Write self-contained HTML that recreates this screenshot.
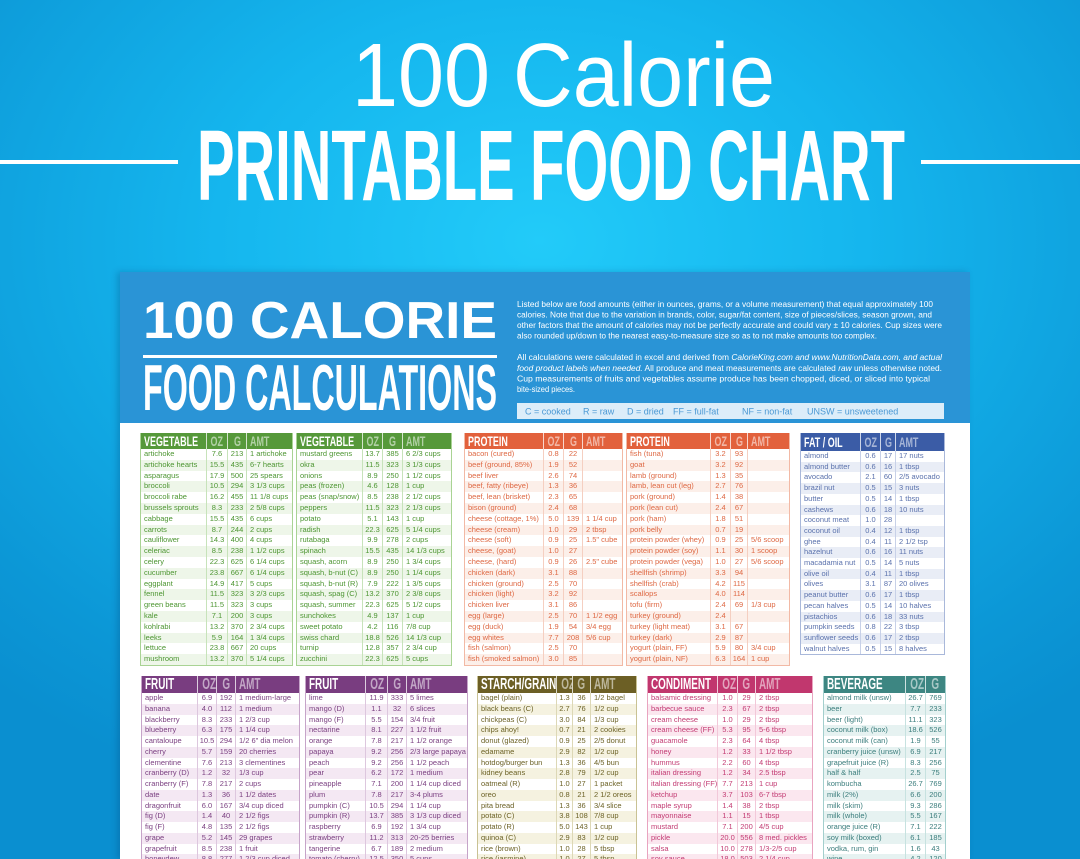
<!DOCTYPE html>
<html><head><meta charset="utf-8">
<style>
html{margin:0;padding:0;width:1080px;height:859px;overflow:hidden}
body{margin:0;padding:0;width:1080px;height:859px;overflow:hidden;position:relative;font-family:"Liberation Sans",sans-serif;
background:radial-gradient(ellipse 75% 70% at 50% 28%,#22cbf9 0%,#15b6ee 40%,#0c97d6 85%,#0a8fd0 100%);}
.card{position:absolute;left:120px;top:272px;width:850px;height:587px;background:#fff;box-shadow:-3px 0 6px rgba(0,60,110,.25)}
.band{position:absolute;left:120px;top:272px;width:850px;height:151px;background:#2a94d6}
svg.ov{position:absolute;left:0;top:0}
.tb{position:absolute;box-sizing:border-box;border:1px solid var(--bd);border-top:none;background:#fff}
.tb table{border-collapse:separate;border-spacing:0;table-layout:fixed;width:100%}
.tb th{height:16px;line-height:16px;padding:0 0 0 3px;text-align:left;font-weight:bold;font-size:14px;color:#fff;background:var(--hd);white-space:nowrap;overflow:hidden}
.tb th+th{border-left:1px solid rgba(255,255,255,.75);color:rgba(255,255,255,.55)}
.tb th:nth-child(2),.tb th:nth-child(3){text-align:center;padding:0}
.tb th span{display:inline-block;transform:scaleX(.64);transform-origin:left center}
.tb th:nth-child(2) span,.tb th:nth-child(3) span{transform-origin:center center}
.tb td{height:10.8px;line-height:10.8px;padding:0 0 0 3px;font-size:7.5px;color:var(--tx);white-space:nowrap;overflow:hidden}
.tb td:nth-child(2),.tb td:nth-child(3){text-align:center;padding:0}
.tb td+td{border-left:1px solid var(--ln)}
.tb tbody tr:nth-child(even) td{background:var(--alt)}
.bot{border-bottom:none}
.bot th{height:17px;line-height:17px;font-size:16px}
.bot th span{transform:scaleX(.62)}
.bot td{height:10.75px;line-height:10.75px}
.fat th{height:18px;line-height:18px}
.fat td{height:10.7px;line-height:10.7px}
.veg{--hd:#56993a;--tx:#4c9531;--bd:#a9d394;--alt:#eef6e9;--ln:#c7e3ba}
.pro{--hd:#e2613c;--tx:#de6843;--bd:#f2b9a5;--alt:#fcefe9;--ln:#f5cfc1}
.fat{--hd:#3b5ca6;--tx:#5a71ac;--bd:#a9b8da;--alt:#e9edf6;--ln:#c8d1e8}
.fru{--hd:#793d80;--tx:#7a3f80;--bd:#c6a4c9;--alt:#f4e8f3;--ln:#ddc7de}
.sta{--hd:#6c5f25;--tx:#6c6226;--bd:#c9c294;--alt:#f5f2e0;--ln:#ddd8b6}
.con{--hd:#c1376e;--tx:#c33b73;--bd:#e9a4c0;--alt:#fbe7ef;--ln:#f2c8d9}
.bev{--hd:#3d8682;--tx:#3a7d7c;--bd:#a3cfcd;--alt:#e6f2f1;--ln:#c7e2e0}
</style></head><body>
<div class="card"></div>
<div class="band"></div>

<svg class="ov" width="1080" height="430" viewBox="0 0 1080 430">
  <text x="352" y="106" font-family="Liberation Sans, sans-serif" font-weight="normal" font-size="90" fill="#fff" textLength="423" lengthAdjust="spacingAndGlyphs">100 Calorie</text>
  <rect x="0" y="160" width="178" height="4" fill="#fff"/>
  <rect x="921" y="160" width="159" height="4" fill="#fff"/>
  <text x="197" y="200" font-family="Liberation Sans, sans-serif" font-weight="bold" font-size="100" fill="#fff" textLength="708" lengthAdjust="spacingAndGlyphs">PRINTABLE FOOD CHART</text>

  <text x="143" y="338" font-family="Liberation Sans, sans-serif" font-weight="bold" font-size="52" fill="#fff" textLength="354" lengthAdjust="spacingAndGlyphs">100 CALORIE</text>
  <rect x="143" y="355" width="354" height="3" fill="#fff"/>
  <text x="143" y="410" font-family="Liberation Sans, sans-serif" font-weight="bold" font-size="65" fill="#fff" textLength="354" lengthAdjust="spacingAndGlyphs">FOOD CALCULATIONS</text>

  <g font-family="Liberation Sans, sans-serif" font-size="8.6" fill="#fff">
    <text x="517" y="307" textLength="416" lengthAdjust="spacingAndGlyphs">Listed below are food amounts (either in ounces, grams, or a volume measurement) that equal approximately 100</text>
    <text x="517" y="317.5" textLength="415" lengthAdjust="spacingAndGlyphs">calories. Note that due to the variation in brands, color, sugar/fat content, size of pieces/slices, season grown, and</text>
    <text x="517" y="328" textLength="425" lengthAdjust="spacingAndGlyphs">other factors that the amount of calories may not be perfectly accurate and could vary ± 10 calories. Cup sizes were</text>
    <text x="517" y="338.5" textLength="360" lengthAdjust="spacingAndGlyphs">also rounded up/down to the nearest easy-to-measure size so as to not make amounts too complex.</text>
    <text x="517" y="360" textLength="425" lengthAdjust="spacingAndGlyphs">All calculations were calculated in excel and derived from <tspan font-style="italic">CalorieKing.com and www.NutritionData.com, and actual</tspan></text>
    <text x="517" y="371" textLength="425" lengthAdjust="spacingAndGlyphs"><tspan font-style="italic">food product labels when needed.</tspan> All produce and meat measurements are calculated <tspan font-style="italic">raw</tspan> unless otherwise noted.</text>
    <text x="517" y="381.5" textLength="413" lengthAdjust="spacingAndGlyphs">Cup measurements of fruits and vegetables assume produce has been chopped, diced, or sliced into typical</text>
    <text x="517" y="392" textLength="58" lengthAdjust="spacingAndGlyphs">bite-sized pieces.</text>
  </g>
  <rect x="517" y="403" width="427" height="16" fill="#dcedf9"/>
  <g font-family="Liberation Sans, sans-serif" font-size="9" fill="#4a98d4">
    <text x="525" y="414.5">C = cooked</text>
    <text x="583" y="414.5">R = raw</text>
    <text x="627" y="414.5">D = dried</text>
    <text x="673" y="414.5">FF = full-fat</text>
    <text x="742" y="414.5">NF = non-fat</text>
    <text x="807" y="414.5">UNSW = unsweetened</text>
  </g>
</svg>

<!-- VEGETABLE 1 -->
<div class="tb veg" style="left:140px;top:433px;width:153px"><table>
<colgroup><col style="width:65px"><col style="width:21px"><col style="width:19px"><col></colgroup>
<thead><tr><th><span>VEGETABLE</span></th><th><span>OZ</span></th><th><span>G</span></th><th><span>AMT</span></th></tr></thead>
<tbody>
<tr><td>artichoke</td><td>7.6</td><td>213</td><td>1 artichoke</td></tr>
<tr><td>artichoke hearts</td><td>15.5</td><td>435</td><td>6-7 hearts</td></tr>
<tr><td>asparagus</td><td>17.9</td><td>500</td><td>25 spears</td></tr>
<tr><td>broccoli</td><td>10.5</td><td>294</td><td>3 1/3 cups</td></tr>
<tr><td>broccoli rabe</td><td>16.2</td><td>455</td><td>11 1/8 cups</td></tr>
<tr><td>brussels sprouts</td><td>8.3</td><td>233</td><td>2 5/8 cups</td></tr>
<tr><td>cabbage</td><td>15.5</td><td>435</td><td>6 cups</td></tr>
<tr><td>carrots</td><td>8.7</td><td>244</td><td>2 cups</td></tr>
<tr><td>cauliflower</td><td>14.3</td><td>400</td><td>4 cups</td></tr>
<tr><td>celeriac</td><td>8.5</td><td>238</td><td>1 1/2 cups</td></tr>
<tr><td>celery</td><td>22.3</td><td>625</td><td>6 1/4 cups</td></tr>
<tr><td>cucumber</td><td>23.8</td><td>667</td><td>6 1/4 cups</td></tr>
<tr><td>eggplant</td><td>14.9</td><td>417</td><td>5 cups</td></tr>
<tr><td>fennel</td><td>11.5</td><td>323</td><td>3 2/3 cups</td></tr>
<tr><td>green beans</td><td>11.5</td><td>323</td><td>3 cups</td></tr>
<tr><td>kale</td><td>7.1</td><td>200</td><td>3 cups</td></tr>
<tr><td>kohlrabi</td><td>13.2</td><td>370</td><td>2 3/4 cups</td></tr>
<tr><td>leeks</td><td>5.9</td><td>164</td><td>1 3/4 cups</td></tr>
<tr><td>lettuce</td><td>23.8</td><td>667</td><td>20 cups</td></tr>
<tr><td>mushroom</td><td>13.2</td><td>370</td><td>5 1/4 cups</td></tr>
</tbody></table></div>

<!-- VEGETABLE 2 -->
<div class="tb veg" style="left:296px;top:433px;width:156px"><table>
<colgroup><col style="width:65px"><col style="width:20px"><col style="width:20px"><col></colgroup>
<thead><tr><th><span>VEGETABLE</span></th><th><span>OZ</span></th><th><span>G</span></th><th><span>AMT</span></th></tr></thead>
<tbody>
<tr><td>mustard greens</td><td>13.7</td><td>385</td><td>6 2/3 cups</td></tr>
<tr><td>okra</td><td>11.5</td><td>323</td><td>3 1/3 cups</td></tr>
<tr><td>onions</td><td>8.9</td><td>250</td><td>1 1/2 cups</td></tr>
<tr><td>peas (frozen)</td><td>4.6</td><td>128</td><td>1 cup</td></tr>
<tr><td>peas (snap/snow)</td><td>8.5</td><td>238</td><td>2 1/2 cups</td></tr>
<tr><td>peppers</td><td>11.5</td><td>323</td><td>2 1/3 cups</td></tr>
<tr><td>potato</td><td>5.1</td><td>143</td><td>1 cup</td></tr>
<tr><td>radish</td><td>22.3</td><td>625</td><td>5 1/4 cups</td></tr>
<tr><td>rutabaga</td><td>9.9</td><td>278</td><td>2 cups</td></tr>
<tr><td>spinach</td><td>15.5</td><td>435</td><td>14 1/3 cups</td></tr>
<tr><td>squash, acorn</td><td>8.9</td><td>250</td><td>1 3/4 cups</td></tr>
<tr><td>squash, b-nut (C)</td><td>8.9</td><td>250</td><td>1 1/4 cups</td></tr>
<tr><td>squash, b-nut (R)</td><td>7.9</td><td>222</td><td>1 3/5 cups</td></tr>
<tr><td>squash, spag (C)</td><td>13.2</td><td>370</td><td>2 3/8 cups</td></tr>
<tr><td>squash, summer</td><td>22.3</td><td>625</td><td>5 1/2 cups</td></tr>
<tr><td>sunchokes</td><td>4.9</td><td>137</td><td>1 cup</td></tr>
<tr><td>sweet potato</td><td>4.2</td><td>116</td><td>7/8 cup</td></tr>
<tr><td>swiss chard</td><td>18.8</td><td>526</td><td>14 1/3 cup</td></tr>
<tr><td>turnip</td><td>12.8</td><td>357</td><td>2 3/4 cup</td></tr>
<tr><td>zucchini</td><td>22.3</td><td>625</td><td>5 cups</td></tr>
</tbody></table></div>

<!-- PROTEIN 1 -->
<div class="tb pro" style="left:464px;top:433px;width:159px"><table>
<colgroup><col style="width:78px"><col style="width:20px"><col style="width:19px"><col></colgroup>
<thead><tr><th><span>PROTEIN</span></th><th><span>OZ</span></th><th><span>G</span></th><th><span>AMT</span></th></tr></thead>
<tbody>
<tr><td>bacon (cured)</td><td>0.8</td><td>22</td><td></td></tr>
<tr><td>beef (ground, 85%)</td><td>1.9</td><td>52</td><td></td></tr>
<tr><td>beef liver</td><td>2.6</td><td>74</td><td></td></tr>
<tr><td>beef, fatty (ribeye)</td><td>1.3</td><td>36</td><td></td></tr>
<tr><td>beef, lean (brisket)</td><td>2.3</td><td>65</td><td></td></tr>
<tr><td>bison (ground)</td><td>2.4</td><td>68</td><td></td></tr>
<tr><td>cheese (cottage, 1%)</td><td>5.0</td><td>139</td><td>1 1/4 cup</td></tr>
<tr><td>cheese (cream)</td><td>1.0</td><td>29</td><td>2 tbsp</td></tr>
<tr><td>cheese (soft)</td><td>0.9</td><td>25</td><td>1.5" cube</td></tr>
<tr><td>cheese, (goat)</td><td>1.0</td><td>27</td><td></td></tr>
<tr><td>cheese, (hard)</td><td>0.9</td><td>26</td><td>2.5" cube</td></tr>
<tr><td>chicken (dark)</td><td>3.1</td><td>88</td><td></td></tr>
<tr><td>chicken (ground)</td><td>2.5</td><td>70</td><td></td></tr>
<tr><td>chicken (light)</td><td>3.2</td><td>92</td><td></td></tr>
<tr><td>chicken liver</td><td>3.1</td><td>86</td><td></td></tr>
<tr><td>egg (large)</td><td>2.5</td><td>70</td><td>1 1/2 egg</td></tr>
<tr><td>egg (duck)</td><td>1.9</td><td>54</td><td>3/4 egg</td></tr>
<tr><td>egg whites</td><td>7.7</td><td>208</td><td>5/6 cup</td></tr>
<tr><td>fish (salmon)</td><td>2.5</td><td>70</td><td></td></tr>
<tr><td>fish (smoked salmon)</td><td>3.0</td><td>85</td><td></td></tr>
</tbody></table></div>

<!-- PROTEIN 2 -->
<div class="tb pro" style="left:626px;top:433px;width:164px"><table>
<colgroup><col style="width:83px"><col style="width:20px"><col style="width:17px"><col></colgroup>
<thead><tr><th><span>PROTEIN</span></th><th><span>OZ</span></th><th><span>G</span></th><th><span>AMT</span></th></tr></thead>
<tbody>
<tr><td>fish (tuna)</td><td>3.2</td><td>93</td><td></td></tr>
<tr><td>goat</td><td>3.2</td><td>92</td><td></td></tr>
<tr><td>lamb (ground)</td><td>1.3</td><td>35</td><td></td></tr>
<tr><td>lamb, lean cut (leg)</td><td>2.7</td><td>76</td><td></td></tr>
<tr><td>pork (ground)</td><td>1.4</td><td>38</td><td></td></tr>
<tr><td>pork (lean cut)</td><td>2.4</td><td>67</td><td></td></tr>
<tr><td>pork (ham)</td><td>1.8</td><td>51</td><td></td></tr>
<tr><td>pork belly</td><td>0.7</td><td>19</td><td></td></tr>
<tr><td>protein powder (whey)</td><td>0.9</td><td>25</td><td>5/6 scoop</td></tr>
<tr><td>protein powder (soy)</td><td>1.1</td><td>30</td><td>1 scoop</td></tr>
<tr><td>protein powder (vega)</td><td>1.0</td><td>27</td><td>5/6 scoop</td></tr>
<tr><td>shellfish (shrimp)</td><td>3.3</td><td>94</td><td></td></tr>
<tr><td>shellfish (crab)</td><td>4.2</td><td>115</td><td></td></tr>
<tr><td>scallops</td><td>4.0</td><td>114</td><td></td></tr>
<tr><td>tofu (firm)</td><td>2.4</td><td>69</td><td>1/3 cup</td></tr>
<tr><td>turkey (ground)</td><td>2.4</td><td></td><td></td></tr>
<tr><td>turkey (light meat)</td><td>3.1</td><td>67</td><td></td></tr>
<tr><td>turkey (dark)</td><td>2.9</td><td>87</td><td></td></tr>
<tr><td>yogurt (plain, FF)</td><td>5.9</td><td>80</td><td>3/4 cup</td></tr>
<tr><td>yogurt (plain, NF)</td><td>6.3</td><td>164</td><td>1 cup</td></tr>
</tbody></table></div>

<!-- FAT / OIL -->
<div class="tb fat" style="left:800px;top:433px;width:145px"><table>
<colgroup><col style="width:59px"><col style="width:20px"><col style="width:15px"><col></colgroup>
<thead><tr><th><span>FAT / OIL</span></th><th><span>OZ</span></th><th><span>G</span></th><th><span>AMT</span></th></tr></thead>
<tbody>
<tr><td>almond</td><td>0.6</td><td>17</td><td>17 nuts</td></tr>
<tr><td>almond butter</td><td>0.6</td><td>16</td><td>1 tbsp</td></tr>
<tr><td>avocado</td><td>2.1</td><td>60</td><td>2/5 avocado</td></tr>
<tr><td>brazil nut</td><td>0.5</td><td>15</td><td>3 nuts</td></tr>
<tr><td>butter</td><td>0.5</td><td>14</td><td>1 tbsp</td></tr>
<tr><td>cashews</td><td>0.6</td><td>18</td><td>10 nuts</td></tr>
<tr><td>coconut meat</td><td>1.0</td><td>28</td><td></td></tr>
<tr><td>coconut oil</td><td>0.4</td><td>12</td><td>1 tbsp</td></tr>
<tr><td>ghee</td><td>0.4</td><td>11</td><td>2 1/2 tsp</td></tr>
<tr><td>hazelnut</td><td>0.6</td><td>16</td><td>11 nuts</td></tr>
<tr><td>macadamia nut</td><td>0.5</td><td>14</td><td>5 nuts</td></tr>
<tr><td>olive oil</td><td>0.4</td><td>11</td><td>1 tbsp</td></tr>
<tr><td>olives</td><td>3.1</td><td>87</td><td>20 olives</td></tr>
<tr><td>peanut butter</td><td>0.6</td><td>17</td><td>1 tbsp</td></tr>
<tr><td>pecan halves</td><td>0.5</td><td>14</td><td>10 halves</td></tr>
<tr><td>pistachios</td><td>0.6</td><td>18</td><td>33 nuts</td></tr>
<tr><td>pumpkin seeds</td><td>0.8</td><td>22</td><td>3 tbsp</td></tr>
<tr><td>sunflower seeds</td><td>0.6</td><td>17</td><td>2 tbsp</td></tr>
<tr><td>walnut halves</td><td>0.5</td><td>15</td><td>8 halves</td></tr>
</tbody></table></div>

<!-- FRUIT 1 -->
<div class="tb fru bot" style="left:141px;top:676px;width:159px"><table>
<colgroup><col style="width:55px"><col style="width:19px"><col style="width:19px"><col></colgroup>
<thead><tr><th><span>FRUIT</span></th><th><span>OZ</span></th><th><span>G</span></th><th><span>AMT</span></th></tr></thead>
<tbody>
<tr><td>apple</td><td>6.9</td><td>192</td><td>1 medium-large</td></tr>
<tr><td>banana</td><td>4.0</td><td>112</td><td>1 medium</td></tr>
<tr><td>blackberry</td><td>8.3</td><td>233</td><td>1 2/3 cup</td></tr>
<tr><td>blueberry</td><td>6.3</td><td>175</td><td>1 1/4 cup</td></tr>
<tr><td>cantaloupe</td><td>10.5</td><td>294</td><td>1/2 6" dia melon</td></tr>
<tr><td>cherry</td><td>5.7</td><td>159</td><td>20 cherries</td></tr>
<tr><td>clementine</td><td>7.6</td><td>213</td><td>3 clementines</td></tr>
<tr><td>cranberry (D)</td><td>1.2</td><td>32</td><td>1/3 cup</td></tr>
<tr><td>cranberry (F)</td><td>7.8</td><td>217</td><td>2 cups</td></tr>
<tr><td>date</td><td>1.3</td><td>36</td><td>1 1/2 dates</td></tr>
<tr><td>dragonfruit</td><td>6.0</td><td>167</td><td>3/4 cup diced</td></tr>
<tr><td>fig (D)</td><td>1.4</td><td>40</td><td>2 1/2 figs</td></tr>
<tr><td>fig (F)</td><td>4.8</td><td>135</td><td>2 1/2 figs</td></tr>
<tr><td>grape</td><td>5.2</td><td>145</td><td>29 grapes</td></tr>
<tr><td>grapefruit</td><td>8.5</td><td>238</td><td>1 fruit</td></tr>
<tr><td>honeydew</td><td>8.8</td><td>277</td><td>1 2/3 cup diced</td></tr>
</tbody></table></div>

<!-- FRUIT 2 -->
<div class="tb fru bot" style="left:305px;top:676px;width:163px"><table>
<colgroup><col style="width:59px"><col style="width:22px"><col style="width:19px"><col></colgroup>
<thead><tr><th><span>FRUIT</span></th><th><span>OZ</span></th><th><span>G</span></th><th><span>AMT</span></th></tr></thead>
<tbody>
<tr><td>lime</td><td>11.9</td><td>333</td><td>5 limes</td></tr>
<tr><td>mango (D)</td><td>1.1</td><td>32</td><td>6 slices</td></tr>
<tr><td>mango (F)</td><td>5.5</td><td>154</td><td>3/4 fruit</td></tr>
<tr><td>nectarine</td><td>8.1</td><td>227</td><td>1 1/2 fruit</td></tr>
<tr><td>orange</td><td>7.8</td><td>217</td><td>1 1/2 orange</td></tr>
<tr><td>papaya</td><td>9.2</td><td>256</td><td>2/3 large papaya</td></tr>
<tr><td>peach</td><td>9.2</td><td>256</td><td>1 1/2 peach</td></tr>
<tr><td>pear</td><td>6.2</td><td>172</td><td>1 medium</td></tr>
<tr><td>pineapple</td><td>7.1</td><td>200</td><td>1 1/4 cup diced</td></tr>
<tr><td>plum</td><td>7.8</td><td>217</td><td>3-4 plums</td></tr>
<tr><td>pumpkin (C)</td><td>10.5</td><td>294</td><td>1 1/4 cup</td></tr>
<tr><td>pumpkin (R)</td><td>13.7</td><td>385</td><td>3 1/3 cup diced</td></tr>
<tr><td>raspberry</td><td>6.9</td><td>192</td><td>1 3/4 cup</td></tr>
<tr><td>strawberry</td><td>11.2</td><td>313</td><td>20-25 berries</td></tr>
<tr><td>tangerine</td><td>6.7</td><td>189</td><td>2 medium</td></tr>
<tr><td>tomato (cherry)</td><td>12.5</td><td>350</td><td>5 cups</td></tr>
</tbody></table></div>

<!-- STARCH / GRAIN -->
<div class="tb sta bot" style="left:477px;top:676px;width:160px"><table>
<colgroup><col style="width:78px"><col style="width:16px"><col style="width:18px"><col></colgroup>
<thead><tr><th><span>STARCH/GRAIN</span></th><th><span>OZ</span></th><th><span>G</span></th><th><span>AMT</span></th></tr></thead>
<tbody>
<tr><td>bagel (plain)</td><td>1.3</td><td>36</td><td>1/2 bagel</td></tr>
<tr><td>black beans (C)</td><td>2.7</td><td>76</td><td>1/2 cup</td></tr>
<tr><td>chickpeas (C)</td><td>3.0</td><td>84</td><td>1/3 cup</td></tr>
<tr><td>chips ahoy!</td><td>0.7</td><td>21</td><td>2 cookies</td></tr>
<tr><td>donut (glazed)</td><td>0.9</td><td>25</td><td>2/5 donut</td></tr>
<tr><td>edamame</td><td>2.9</td><td>82</td><td>1/2 cup</td></tr>
<tr><td>hotdog/burger bun</td><td>1.3</td><td>36</td><td>4/5 bun</td></tr>
<tr><td>kidney beans</td><td>2.8</td><td>79</td><td>1/2 cup</td></tr>
<tr><td>oatmeal (R)</td><td>1.0</td><td>27</td><td>1 packet</td></tr>
<tr><td>oreo</td><td>0.8</td><td>21</td><td>2 1/2 oreos</td></tr>
<tr><td>pita bread</td><td>1.3</td><td>36</td><td>3/4 slice</td></tr>
<tr><td>potato (C)</td><td>3.8</td><td>108</td><td>7/8 cup</td></tr>
<tr><td>potato (R)</td><td>5.0</td><td>143</td><td>1 cup</td></tr>
<tr><td>quinoa (C)</td><td>2.9</td><td>83</td><td>1/2 cup</td></tr>
<tr><td>rice (brown)</td><td>1.0</td><td>28</td><td>5 tbsp</td></tr>
<tr><td>rice (jasmine)</td><td>1.0</td><td>27</td><td>5 tbsp</td></tr>
</tbody></table></div>

<!-- CONDIMENT -->
<div class="tb con bot" style="left:647px;top:676px;width:166px"><table>
<colgroup><col style="width:69px"><col style="width:20px"><col style="width:18px"><col></colgroup>
<thead><tr><th><span>CONDIMENT</span></th><th><span>OZ</span></th><th><span>G</span></th><th><span>AMT</span></th></tr></thead>
<tbody>
<tr><td>balsamic dressing</td><td>1.0</td><td>29</td><td>2 tbsp</td></tr>
<tr><td>barbecue sauce</td><td>2.3</td><td>67</td><td>2 tbsp</td></tr>
<tr><td>cream cheese</td><td>1.0</td><td>29</td><td>2 tbsp</td></tr>
<tr><td>cream cheese (FF)</td><td>5.3</td><td>95</td><td>5-6 tbsp</td></tr>
<tr><td>guacamole</td><td>2.3</td><td>64</td><td>4 tbsp</td></tr>
<tr><td>honey</td><td>1.2</td><td>33</td><td>1 1/2 tbsp</td></tr>
<tr><td>hummus</td><td>2.2</td><td>60</td><td>4 tbsp</td></tr>
<tr><td>italian dressing</td><td>1.2</td><td>34</td><td>2.5 tbsp</td></tr>
<tr><td>italian dressing (FF)</td><td>7.7</td><td>213</td><td>1 cup</td></tr>
<tr><td>ketchup</td><td>3.7</td><td>103</td><td>6-7 tbsp</td></tr>
<tr><td>maple syrup</td><td>1.4</td><td>38</td><td>2 tbsp</td></tr>
<tr><td>mayonnaise</td><td>1.1</td><td>15</td><td>1 tbsp</td></tr>
<tr><td>mustard</td><td>7.1</td><td>200</td><td>4/5 cup</td></tr>
<tr><td>pickle</td><td>20.0</td><td>556</td><td>8 med. pickles</td></tr>
<tr><td>salsa</td><td>10.0</td><td>278</td><td>1/3-2/5 cup</td></tr>
<tr><td>soy sauce</td><td>18.0</td><td>503</td><td>2 1/4 cup</td></tr>
</tbody></table></div>

<!-- BEVERAGE -->
<div class="tb bev bot" style="left:823px;top:676px;width:123px"><table>
<colgroup><col style="width:81px"><col style="width:20px"><col></colgroup>
<thead><tr><th><span>BEVERAGE</span></th><th><span>OZ</span></th><th><span>G</span></th></tr></thead>
<tbody>
<tr><td>almond milk (unsw)</td><td>26.7</td><td>769</td></tr>
<tr><td>beer</td><td>7.7</td><td>233</td></tr>
<tr><td>beer (light)</td><td>11.1</td><td>323</td></tr>
<tr><td>coconut milk (box)</td><td>18.6</td><td>526</td></tr>
<tr><td>coconut milk (can)</td><td>1.9</td><td>55</td></tr>
<tr><td>cranberry juice (unsw)</td><td>6.9</td><td>217</td></tr>
<tr><td>grapefruit juice (R)</td><td>8.3</td><td>256</td></tr>
<tr><td>half &amp; half</td><td>2.5</td><td>75</td></tr>
<tr><td>kombucha</td><td>26.7</td><td>769</td></tr>
<tr><td>milk (2%)</td><td>6.6</td><td>200</td></tr>
<tr><td>milk (skim)</td><td>9.3</td><td>286</td></tr>
<tr><td>milk (whole)</td><td>5.5</td><td>167</td></tr>
<tr><td>orange juice (R)</td><td>7.1</td><td>222</td></tr>
<tr><td>soy milk (boxed)</td><td>6.1</td><td>185</td></tr>
<tr><td>vodka, rum, gin</td><td>1.6</td><td>43</td></tr>
<tr><td>wine</td><td>4.2</td><td>120</td></tr>
</tbody></table></div>

</body></html>
